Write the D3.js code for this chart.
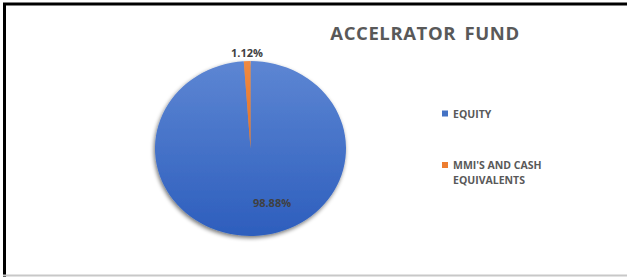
<!DOCTYPE html>
<html>
<head>
<meta charset="utf-8">
<script src="https://cdn.jsdelivr.net/npm/d3@7"></script>
<style>
html,body{margin:0;padding:0;background:#fff;}
svg{display:block;}
</style>
</head>
<body>
<svg id="chart" width="627" height="277"></svg>
<script>
const title = "ACCELRATOR FUND";
const categories = ["EQUITY", "MMI'S AND CASH EQUIVALENTS"];
const values = [98.88, 1.12];
const labels = ["98.88%", "1.12%"];
const colors = ["#4472C4", "#ED7D31"];

const svg = d3.select("#chart");
const W = 627, H = 277;

// frame
svg.append("rect").attr("x",0).attr("y",0).attr("width",W).attr("height",H).attr("fill","#fff");
svg.append("line").attr("x1",3).attr("x2",W).attr("y1",4).attr("y2",4).attr("stroke","#000").attr("stroke-width",3);
svg.append("line").attr("x1",4.5).attr("x2",4.5).attr("y1",3).attr("y2",H).attr("stroke","#000").attr("stroke-width",3);
svg.append("line").attr("x1",3).attr("x2",W).attr("y1",275.5).attr("y2",275.5).attr("stroke","#c8c8c8").attr("stroke-width",2);

const defs = svg.append("defs");
const grad = defs.append("linearGradient").attr("id","gEq").attr("x1",0).attr("y1",0).attr("x2",0).attr("y2",1)
  .attr("gradientUnits","objectBoundingBox");
grad.append("stop").attr("offset","0%").attr("stop-color","#5d86d3");
grad.append("stop").attr("offset","100%").attr("stop-color","#2d5ebd");
const grad2 = defs.append("linearGradient").attr("id","gMm").attr("x1",0).attr("y1",0).attr("x2",0).attr("y2",1);
grad2.append("stop").attr("offset","0%").attr("stop-color","#f08a40");
grad2.append("stop").attr("offset","100%").attr("stop-color","#e0702a");

const filt = defs.append("filter").attr("id","sh").attr("x","-20%").attr("y","-20%").attr("width","140%").attr("height","140%");
filt.append("feGaussianBlur").attr("in","SourceAlpha").attr("stdDeviation",2.2).attr("result","b");
filt.append("feOffset").attr("in","b").attr("dx",-1).attr("dy",2).attr("result","o");
filt.append("feComponentTransfer").attr("in","o").attr("result","o2")
  .append("feFuncA").attr("type","linear").attr("slope",0.55);
const fm = filt.append("feMerge");
fm.append("feMergeNode").attr("in","o2");
fm.append("feMergeNode").attr("in","SourceGraphic");

const cx = 250.5, cy = 148.5, rx = 95.5, ry = 87.5;
const pie = d3.pie().sort(null).value(d => d)(values);
const arc = d3.arc().innerRadius(0).outerRadius(rx);

const g = svg.append("g").attr("transform",`translate(${cx},${cy}) scale(1,${ry/rx})`).attr("filter","url(#sh)");
g.selectAll("path").data(pie).join("path")
  .attr("d", arc)
  .attr("fill", (d,i) => i===0 ? "url(#gEq)" : "url(#gMm)");

// data labels
const labelPos = [
  {x: 272, y: 202},
  {x: 247, y: 52}
];
svg.selectAll("text.dl").data(labels).join("text").attr("class","dl")
  .attr("x",(d,i)=>labelPos[i].x).attr("y",(d,i)=>labelPos[i].y)
  .attr("text-anchor","middle").attr("dominant-baseline","central")
  .attr("font-family","'Open Sans', sans-serif").attr("font-weight","bold").attr("font-size",11)
  .attr("fill","#404040").text(d=>d);

// title
svg.append("text").attr("x",425).attr("y",32).attr("text-anchor","middle").attr("dominant-baseline","central")
  .attr("font-family","'Open Sans', sans-serif").attr("font-weight","bold").attr("font-size",18.5)
  .attr("letter-spacing",0.6).attr("word-spacing",3)
  .attr("fill","#595959").text(title);

// legend
const legY = [113.5, 165];
const lg = svg.append("g");
categories.forEach((c,i)=>{
  lg.append("rect").attr("x",442).attr("y",legY[i]-3).attr("width",6).attr("height",6).attr("fill",colors[i]);
  const lines = i===0 ? [c] : ["MMI'S AND CASH","EQUIVALENTS"];
  lines.forEach((t,j)=>{
    lg.append("text").attr("x",453).attr("y",legY[i]+j*15).attr("dominant-baseline","central")
      .attr("font-family","'Open Sans', sans-serif").attr("font-weight","bold").attr("font-size",10.5)
      .attr("fill","#595959").text(t);
  });
});
</script>
</body>
</html>
